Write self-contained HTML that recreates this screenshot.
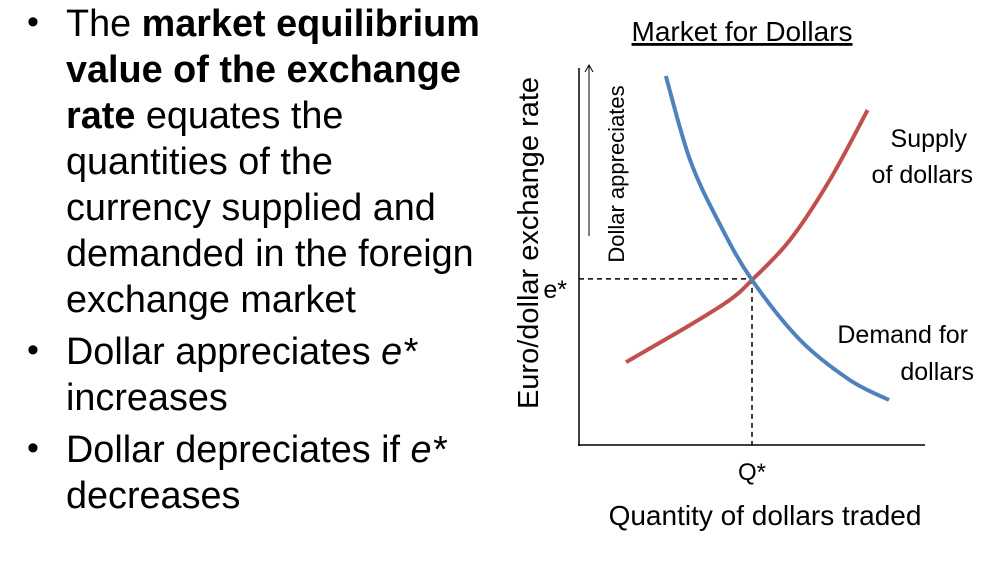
<!DOCTYPE html>
<html><head><meta charset="utf-8"><style>
body{margin:0;background:#fff;width:987px;height:565px;overflow:hidden;position:relative;font-family:"Liberation Sans",sans-serif}
.b{position:absolute;left:66px;font-size:37.8px;line-height:46px;color:#000;white-space:nowrap}
.dot{position:absolute;left:27px;font-size:34px}
</style></head><body>
<div>
<div class="dot" style="top:3px">•</div>
<div class="b" style="top:1px">The <b>market equilibrium<br>value of the exchange<br>rate</b> equates the<br>quantities of the<br>currency supplied and<br>demanded in the foreign<br>exchange market</div>
<div class="dot" style="top:331px">•</div>
<div class="b" style="top:329px">Dollar appreciates <i>e*</i><br>increases</div>
<div class="dot" style="top:429px">•</div>
<div class="b" style="top:427px">Dollar depreciates if <i>e*</i><br>decreases</div>
</div>
<svg id="chart" width="987" height="565" style="position:absolute;left:0;top:0">
<text x="742" y="41" font-size="28" text-anchor="middle" text-decoration="underline" font-family="Liberation Sans">Market for Dollars</text>
<text transform="translate(538,243) rotate(-90)" font-size="29" text-anchor="middle" font-family="Liberation Sans">Euro/dollar exchange rate</text>
<text transform="translate(624,174) rotate(-90)" font-size="22" text-anchor="middle" font-family="Liberation Sans">Dollar appreciates</text>
<line x1="589" y1="236" x2="589" y2="66" stroke="#000" stroke-width="1"/>
<path d="M585,72 L589,65 L593,72" fill="none" stroke="#000"/>
<line x1="579" y1="68" x2="579" y2="446" stroke="#000" stroke-width="1.5"/>
<line x1="578" y1="445" x2="925" y2="445" stroke="#000" stroke-width="1.5"/>
<g id="marks"></g>
<text x="567" y="298" font-size="25" text-anchor="end" font-family="Liberation Sans">e*</text>
<text x="752" y="480" font-size="24" text-anchor="middle" font-family="Liberation Sans">Q*</text>
<text x="765" y="525" font-size="28" text-anchor="middle" font-family="Liberation Sans">Quantity of dollars traded</text>
<text x="967" y="147" font-size="25" text-anchor="end" font-family="Liberation Sans">Supply</text>
<text x="973" y="183" font-size="25" text-anchor="end" font-family="Liberation Sans">of dollars</text>
<text x="968" y="343" font-size="25" text-anchor="end" font-family="Liberation Sans">Demand for</text>
<text x="974" y="380" font-size="25" text-anchor="end" font-family="Liberation Sans">dollars</text>
</svg>
<script>
const demandQ=[2.51,3.21,4.08,5.0,6.39,7.83,8.96];
const demandP=[9.84,7.6,5.87,4.4,2.8,1.73,1.2];
const supplyQ=[1.36,3.21,4.36,5.0,6.1,7.25,8.34];
const supplyP=[2.21,3.2,3.87,4.4,5.47,7.07,8.93];
const eqQ=5.0, eqP=4.43;
const X=q=>579+q*34.6, Y=p=>445-p*37.5;
const g=document.getElementById('marks');
function smooth(qs,ps){const pts=qs.map((q,i)=>[X(q),Y(ps[i])]);let d='M'+pts[0];
for(let i=0;i<pts.length-1;i++){const p0=pts[i-1]||pts[i],p1=pts[i],p2=pts[i+1],p3=pts[i+2]||p2;
d+=' C'+(p1[0]+(p2[0]-p0[0])/6)+','+(p1[1]+(p2[1]-p0[1])/6)+' '+(p2[0]-(p3[0]-p1[0])/6)+','+(p2[1]-(p3[1]-p1[1])/6)+' '+p2;}return d;}
function mk(t,a){const e=document.createElementNS('http://www.w3.org/2000/svg',t);for(const k in a)e.setAttribute(k,a[k]);g.appendChild(e);return e;}
let h=mk('line',{x1:579,y1:Y(eqP),x2:X(eqQ),y2:Y(eqP),stroke:'#000','stroke-dasharray':'5,4','stroke-width':1.5});


let v=mk('line',{x1:X(eqQ),y1:Y(eqP),x2:X(eqQ),y2:445,stroke:'#000','stroke-dasharray':'5,4','stroke-width':1.5});


let s=mk('path',{d:smooth(supplyQ,supplyP),fill:'none',stroke:'#c0504d','stroke-width':4});


let dm=mk('path',{d:smooth(demandQ,demandP),fill:'none',stroke:'#4f81bd','stroke-width':4});


</script>
</body></html>
